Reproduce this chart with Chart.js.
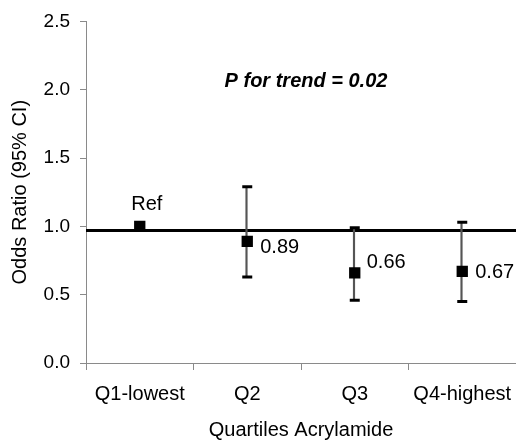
<!DOCTYPE html>
<html>
<head>
<meta charset="utf-8">
<script src="https://cdn.jsdelivr.net/npm/chart.js@4"></script>
<style>
  html, body { margin: 0; padding: 0; background: #fff; overflow: hidden; }
  #wrap { width: 516px; height: 445px; position: relative; }
  canvas { display: block; }
</style>
</head>
<body>
<div id="wrap"><canvas id="orChart"></canvas></div>
<script>
// kwartyle akrylamidu
var quartiles = ['Q1-lowest', 'Q2', 'Q3', 'Q4-highest'];
var oddsRatio = [1.0, 0.89, 0.66, 0.67];
var ciLow = [null, 0.63, 0.46, 0.45];
var ciHigh = [null, 1.29, 0.99, 1.03];
var pointLabels = ['Ref', '0.89', '0.66', '0.67'];
var refLine = 0.97;
var trendText = 'P for trend = 0.02';
var yTicks = [0, 0.5, 1.0, 1.5, 2.0, 2.5];

// przesuniecia etykiet wzgledem punktow (px)
var labelOffsets = [[7, -22, 'center'], [13, 6, 'left'], [12, -10, 'left'], [13, 1, 'left']];

var FONT = "'Liberation Sans', Arial, sans-serif";
var AXIS = '#8a8a8a';

var labelPlugin = {
    id: 'labelPlugin',
    afterDatasetsDraw: function (chart) {
        var ctx = chart.ctx;
        var meta = chart.getDatasetMeta(0);
        ctx.save();
        ctx.fillStyle = '#000';
        ctx.font = '20px ' + FONT;
        ctx.textBaseline = 'middle';
        for (var i = 0; i < meta.data.length; i++) {
            var p = meta.data[i];
            ctx.textAlign = labelOffsets[i][2];
            ctx.fillText(pointLabels[i], p.x + labelOffsets[i][0], p.y + labelOffsets[i][1]);
        }
        // P for trend
        ctx.font = 'italic bold 20px ' + FONT;
        ctx.textAlign = 'center';
        ctx.fillText(trendText, chart.chartArea.left + 220, chart.chartArea.top + 60);
        ctx.restore();
    }
};

var ctx = document.getElementById('orChart').getContext('2d');

new Chart(ctx, {
    type: 'line',
    data: {
        labels: quartiles,
        datasets: [{
            /* OR - kwadraty */
            type: 'line',
            data: oddsRatio,
            showLine: false,
            pointStyle: 'rect',
            pointRadius: 8,
            pointBackgroundColor: '#000',
            pointBorderColor: '#000',
            pointBorderWidth: 0,
            order: 1
        }, {
            /* gorne wasy */
            type: 'line',
            data: ciHigh,
            showLine: false,
            pointStyle: 'line',
            pointRadius: 5,
            pointBorderColor: '#000',
            pointBorderWidth: 3,
            order: 2
        }, {
            /* dolne wasy */
            type: 'line',
            data: ciLow,
            showLine: false,
            pointStyle: 'line',
            pointRadius: 5,
            pointBorderColor: '#000',
            pointBorderWidth: 3,
            order: 2
        }, {
            /* przedzial ufnosci */
            type: 'bar',
            data: quartiles.map(function (q, i) {
                return ciLow[i] == null ? null : [ciLow[i], ciHigh[i]];
            }),
            backgroundColor: '#555',
            borderWidth: 0,
            barThickness: 1.5,
            order: 3
        }, {
            /* linia odniesienia */
            type: 'line',
            xAxisID: 'x2',
            data: [{ x: 0, y: refLine }, { x: 1, y: refLine }],
            borderColor: '#000',
            borderWidth: 3,
            pointRadius: 0,
            order: 4
        }]
    },
    options: {
        responsive: true,
        maintainAspectRatio: false,
        animation: false,
        layout: { autoPadding: false, padding: { top: 19, right: 0, bottom: 0, left: 0 } },
        plugins: {
            legend: { display: false },
            tooltip: { enabled: false }
        },
        scales: {
            x: {
                type: 'category',
                offset: true,
                grid: { offset: true, drawOnChartArea: false, tickLength: 7, color: AXIS },
                border: { color: AXIS, width: 1 },
                ticks: { color: '#000', font: { family: FONT, size: 20 }, padding: 12, maxRotation: 0 },
                title: {
                    display: true,
                    text: 'Quartiles Acrylamide',
                    color: '#000',
                    font: { family: FONT, size: 20 },
                    padding: { top: 0, bottom: 3 }
                },
                afterFit: function (scale) {
                    scale.height = 82;
                    scale.paddingLeft = 0;
                    scale.paddingRight = 0;
                }
            },
            x2: {
                type: 'linear',
                display: false,
                min: 0,
                max: 1
            },
            y: {
                min: 0,
                max: 2.5,
                afterBuildTicks: function (scale) {
                    scale.ticks = yTicks.map(function (v) { return { value: v }; });
                },
                grid: { drawOnChartArea: false, tickLength: 6, color: AXIS },
                border: { color: AXIS, width: 1 },
                ticks: {
                    color: '#000',
                    font: { family: FONT, size: 19 },
                    padding: 10,
                    callback: function (v) { return v.toFixed(1); }
                },
                title: {
                    display: true,
                    text: 'Odds Ratio (95% CI)',
                    color: '#000',
                    font: { family: FONT, size: 20 },
                    padding: { top: 8, bottom: 0 }
                },
                afterFit: function (scale) { scale.width = 86; }
            }
        }
    },
    plugins: [labelPlugin]
});
</script>
</body>
</html>
